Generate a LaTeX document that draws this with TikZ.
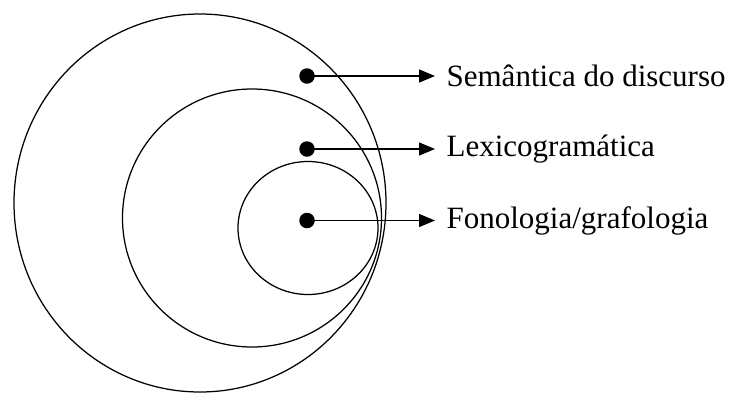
\documentclass[tikz,border=0pt]{standalone}
\usepackage{fontspec}
\setmainfont{Liberation Serif}
\usetikzlibrary{positioning, arrows.meta}

\tikzset{
  dot/.style={circle, fill=black, inner sep=0pt, minimum size=15.5pt},
  lbl/.style={anchor=west, inner xsep=11pt, inner ysep=0pt, font=\fontsize{31}{34}\selectfont},
  pointer/.style={-{Triangle[length=16pt, width=13pt]}, line width=1.4pt}
}

\begin{document}
\begin{tikzpicture}[x=1pt, y=-1pt, line width=1.25pt]
    \useasboundingbox (0,0) rectangle (737,392);

    % estratos
    \draw (200,203) ellipse [x radius=186, y radius=189];
    \draw (252,218) ellipse [x radius=129.5, y radius=129];
    \draw (308,228) ellipse [x radius=70, y radius=66.5];

    % pontos e rotulos
    \node[dot] (sem) at (307,76) {};
    \node[dot] (lex) at (307,149) {};
    \node[dot] (fon) at (307,220.5) {};

    \node[lbl] (semT) at (435,76) {Semântica do discurso};
    \node[lbl] (lexT) at (435,149) {Lexicogramática};
    \node[lbl] (fonT) at (435,220.5) {Fonologia/grafologia};

    \draw[pointer] (sem.center) -- (semT.west);
    \draw[pointer] (lex.center) -- (lexT.west);
    \draw[pointer] (fon.center) -- (fonT.west);
\end{tikzpicture}
\end{document}
